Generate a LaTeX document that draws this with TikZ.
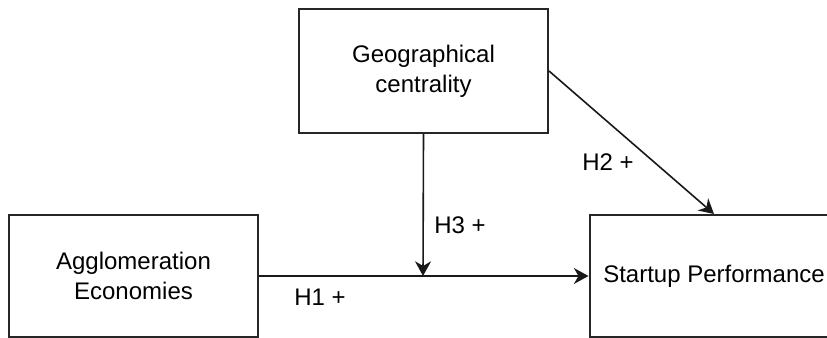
\documentclass[tikz,border=0pt]{standalone}
\usepackage{fontspec}
\setmainfont{Liberation Sans}
\usetikzlibrary{arrows.meta}
\begin{document}
\begin{tikzpicture}[x=0.75pt,y=-0.75pt,
  box/.style={draw=black!85, line width=1.5pt, fill=white, minimum width=186.75pt, minimum height=91.5pt, inner sep=0pt, align=center, font=\fontsize{18}{22.5}\selectfont},
  conn/.style={draw=black!90, line width=1.2pt},
  arr/.style={conn, -{Stealth[length=11pt, width=12pt, inset=3.5pt]}},
  lbl/.style={font=\fontsize{18}{22.5}\selectfont, inner sep=0pt}]
\useasboundingbox (0,0) rectangle (827,338);
\clip (0,0) rectangle (827,338);
\fill[white] (0,0) rectangle (827,338);
\node[box, minimum height=93pt] (geo) at (423.5,71) {Geographical\\centrality};
\node[box] (agg) at (133.5,276) {Agglomeration\\Economies};
\node[box] (sp) at (714,276) {Startup Performance};
\coordinate (mid) at (423,276);
\draw[arr] (agg.east) -- (sp.west);
\draw[arr] (geo.south) -- (mid);
\draw[arr] (geo.east) -- (sp.north);
\node[lbl] (h3) at (460,225) {H3 +};
\node[lbl] (h1) at (320,297) {H1 +};
\node[lbl] (h2) at (608,162) {H2 +};
\end{tikzpicture}
\end{document}
